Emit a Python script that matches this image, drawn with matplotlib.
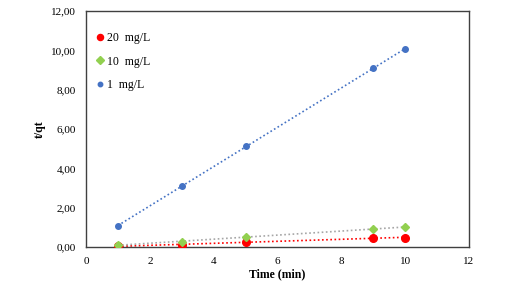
import numpy as np
import matplotlib.pyplot as plt

# 데이터
time = [1, 3, 5, 9, 10]
t_qt_20 = [0.05, 0.10, 0.26, 0.46, 0.48]
t_qt_10 = [0.10, 0.27, 0.52, 0.91, 1.02]
t_qt_1 = [1.05, 3.10, 5.15, 9.10, 10.05]

labels = ['20  mg/L', '10  mg/L', '1  mg/L']
xticks = [0, 2, 4, 6, 8, 10, 12]
yticks = [0, 2, 4, 6, 8, 10, 12]

plt.rcParams['font.family'] = ['Liberation Serif', 'DejaVu Serif']

fig = plt.figure(figsize=(5.26, 2.96), dpi=100)
ax = fig.add_axes([0.1635, 0.1655, 0.728, 0.797])

series = [
    (t_qt_20, '#FF0000', '#FF0000', 'o', 5.5),
    (t_qt_10, '#92D050', '#A6A6A6', 'D', 4.5),
    (t_qt_1, '#4472C4', '#4472C4', 'o', 4),
]

x = np.array(time)
for (y, c, lc, m, ms), lab in zip(series, labels):
    ax.plot(x, y, linestyle='none', marker=m, color=c, markersize=ms, label=lab, zorder=3)
    # 선형 추세선
    a, b = np.polyfit(x, y, 1)
    xx = np.array([x.min(), x.max()])
    ax.plot(xx, a * xx + b, linestyle=(0, (1, 1.5)), color=lc, linewidth=1.2, zorder=2)

ax.set_xlim(0, 12)
ax.set_ylim(0, 12)
ax.set_xticks(xticks)
ax.set_yticks(yticks)
ax.set_xticklabels([str(v) for v in xticks], fontsize=8)
ax.set_yticklabels([f'{v:.2f}'.replace('.', ',') for v in yticks], fontsize=8)
ax.tick_params(length=0, pad=7)
for s in ax.spines.values():
    s.set_color('#404040')
    s.set_linewidth(1.0)

ax.set_xlabel('Time (min)', fontsize=8.5, fontweight='bold', labelpad=2)
ax.set_ylabel('t/qt', fontsize=8.5, fontweight='bold', labelpad=4)

ax.legend(loc='upper left', bbox_to_anchor=(0.0, 0.945), frameon=False, fontsize=8.5,
          handletextpad=0.1, labelspacing=0.95, handlelength=1.0, borderaxespad=0.3,
          markerscale=0.8)

plt.savefig('out.png', dpi=100)
